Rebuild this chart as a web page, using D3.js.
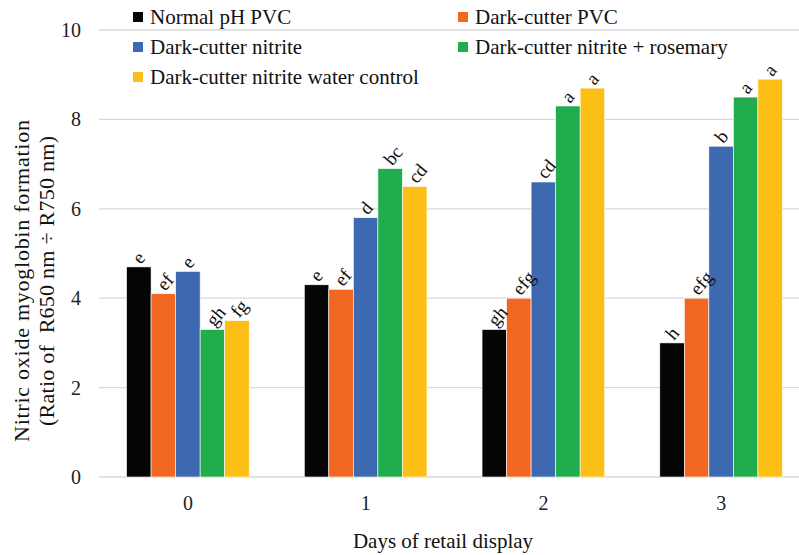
<!DOCTYPE html>
<html>
<head>
<meta charset="utf-8">
<script src="https://d3js.org/d3.v7.min.js"></script>
<style>
body{margin:0;background:#fff}
svg text{font-family:'Liberation Serif','Times New Roman',serif}
</style>
</head>
<body>
<div id="chart"></div>
<script>
// chart data
var days = ["0", "1", "2", "3"];
var seriesNames = ["Normal pH PVC", "Dark-cutter PVC", "Dark-cutter nitrite",
  "Dark-cutter nitrite + rosemary", "Dark-cutter nitrite water control"];
var seriesColors = ["#050505", "#f26722", "#3d69b0", "#21ad4e", "#fbbf16"];
// values per series, one per day
var normalPVC = [4.7, 4.3, 3.3, 3.0];
var darkPVC = [4.1, 4.2, 4.0, 4.0];
var darkNitrite = [4.6, 5.8, 6.6, 7.4];
var darkRosemary = [3.3, 6.9, 8.3, 8.5];
var darkWater = [3.5, 6.5, 8.7, 8.9];
// significance letters per series, one per day
var lblNormalPVC = ["e", "e", "gh", "h"];
var lblDarkPVC = ["ef", "ef", "efg", "efg"];
var lblDarkNitrite = ["e", "d", "cd", "b"];
var lblDarkRosemary = ["gh", "bc", "a", "a"];
var lblDarkWater = ["fg", "cd", "a", "a"];
var yTicks = [0, 2, 4, 6, 8, 10];

var values = [normalPVC, darkPVC, darkNitrite, darkRosemary, darkWater];
var letters = [lblNormalPVC, lblDarkPVC, lblDarkNitrite, lblDarkRosemary, lblDarkWater];

var W = 799, H = 555;
var svg = d3.select("#chart").append("svg").attr("width", W).attr("height", H);

var x = d3.scaleBand().domain(days).range([99, 810]).paddingInner(0.31).paddingOuter(0.155);
var xs = d3.scaleBand().domain(d3.range(seriesNames.length)).range([0, x.bandwidth()]);
var y = d3.scaleLinear().domain([0, 10]).range([477, 30]);

// gridlines
svg.append("g").selectAll("line").data(yTicks).enter().append("line")
  .attr("x1", 99).attr("x2", W)
  .attr("y1", function(d){ return y(d); }).attr("y2", function(d){ return y(d); })
  .attr("stroke", "#d9d9d9").attr("stroke-width", 1.3);

// y axis labels
var yAxis = svg.append("g").attr("transform", "translate(81,0)")
  .call(d3.axisLeft(y).tickValues(yTicks).tickSize(0).tickPadding(0));
yAxis.select(".domain").remove();
yAxis.attr("font-family", null);
yAxis.selectAll("text").attr("font-size", 20).attr("fill", "#222");

// x axis labels
var xAxis = svg.append("g").attr("transform", "translate(0,496)")
  .call(d3.axisBottom(x).tickSize(0).tickPadding(0));
xAxis.select(".domain").remove();
xAxis.attr("font-family", null);
xAxis.selectAll("text").attr("font-size", 20).attr("fill", "#222");

// bars
var flat = [];
values.forEach(function(s, i){
  s.forEach(function(v, j){ flat.push({s: i, day: days[j], v: v, lbl: letters[i][j]}); });
});

svg.append("g").selectAll("rect").data(flat).enter().append("rect")
  .attr("x", function(d){ return x(d.day) + xs(d.s); })
  .attr("width", xs.bandwidth())
  .attr("y", function(d){ return y(d.v); })
  .attr("height", function(d){ return y(0) - y(d.v); })
  .attr("fill", function(d){ return seriesColors[d.s]; })
  .attr("stroke", "#fff").attr("stroke-width", 0.6);

// letters over bars
svg.append("g").selectAll("text").data(flat).enter().append("text")
  .attr("transform", function(d){
    var cx = x(d.day) + xs(d.s) + xs.bandwidth() / 2 + 2;
    return "translate(" + cx + "," + (y(d.v) - 2) + ") rotate(-50)";
  })
  .attr("font-size", 19).attr("fill", "#111")
  .text(function(d){ return d.lbl; });

// legend
var legPos = [[133, 17], [458, 17], [133, 47], [458, 47], [133, 77]];
var leg = svg.append("g").selectAll("g").data(seriesNames).enter().append("g")
  .attr("transform", function(d, i){ return "translate(" + legPos[i][0] + "," + legPos[i][1] + ")"; });
leg.append("rect").attr("x", 0).attr("y", -5).attr("width", 10).attr("height", 10)
  .attr("fill", function(d, i){ return seriesColors[i]; });
leg.append("text").attr("x", 17).attr("y", 7).attr("font-size", 21).attr("fill", "#111")
  .text(function(d){ return d; });

// axis titles
svg.append("text").attr("x", 443).attr("y", 548).attr("text-anchor", "middle")
  .attr("font-size", 21).attr("fill", "#111").text("Days of retail display");
var yt = svg.append("g").attr("transform", "translate(0,281) rotate(-90)");
yt.append("text").attr("x", 0).attr("y", 29).attr("text-anchor", "middle")
  .attr("font-size", 22).attr("fill", "#111")
  .attr("textLength", 322).attr("lengthAdjust", "spacing")
  .text("Nitric oxide myoglobin formation");
yt.append("text").attr("x", 0).attr("y", 54).attr("text-anchor", "middle")
  .attr("font-size", 22).attr("fill", "#111").attr("xml:space", "preserve")
  .attr("textLength", 290).attr("lengthAdjust", "spacing")
  .text("(Ratio of  R650 nm ÷ R750 nm)");
</script>
</body>
</html>
